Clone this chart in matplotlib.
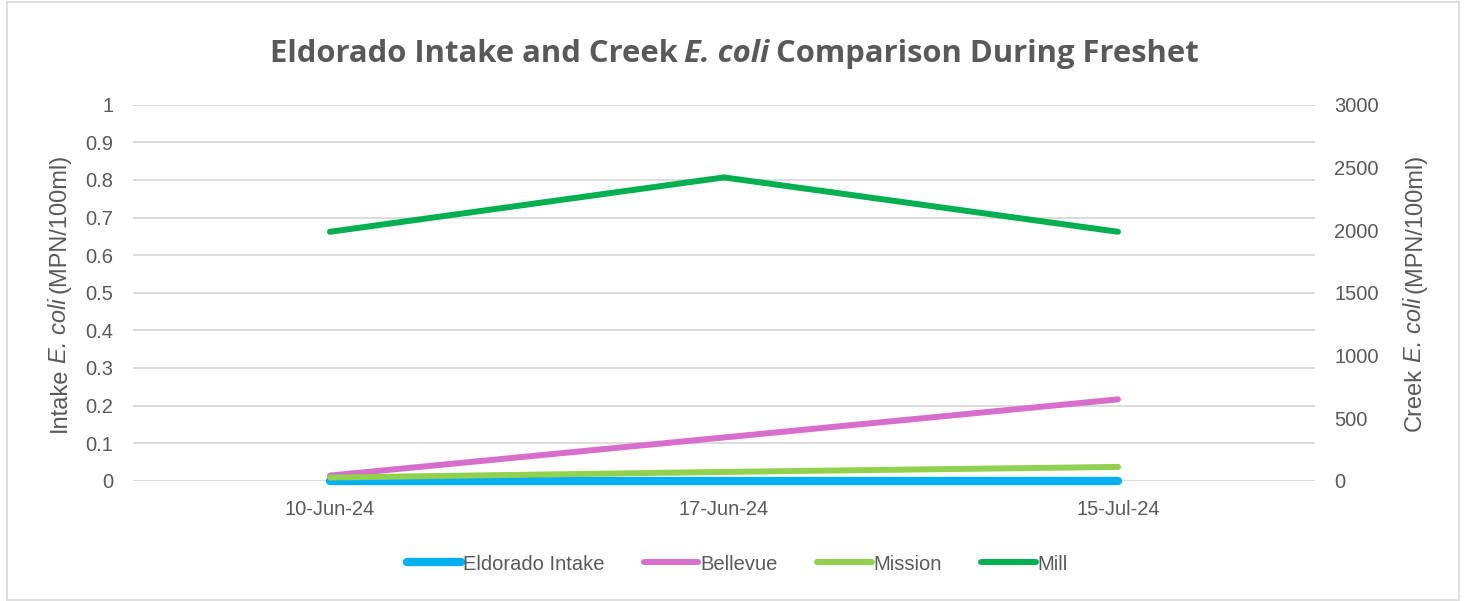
import matplotlib
matplotlib.use("Agg")
from matplotlib import pyplot as plt
from matplotlib.patches import Rectangle
from matplotlib.transforms import IdentityTransform

dates = ["10-Jun-24", "17-Jun-24", "15-Jul-24"]
eldorado_intake = [0, 0, 0]
bellevue = [41, 345, 649]
mission = [25, 70, 110]
mill = [1986, 2420, 1986]

TEXT = "#595959"
GRID = "#d9d9d9"
BODY = "Liberation Sans"
TITLE = "Open Sans"

fig = plt.figure(figsize=(14.66, 6.01), dpi=100)
fig.patches.append(Rectangle((7, 1), 1452, 598, transform=IdentityTransform(),
                             fill=False, edgecolor=GRID, linewidth=1.2))

ax = fig.add_axes([133 / 1466, 1 - 480.7 / 601, (1315 - 133) / 1466, 376 / 601])
ax2 = ax.twinx()
x = list(range(len(dates)))

ax.set_ylim(0, 1)
ax.set_yticks([i / 10 for i in range(11)])
ax.set_yticklabels(["0"] + [f"{i / 10:g}" for i in range(1, 10)] + ["1"])
ax.set_xlim(-0.5, 2.5)
ax.set_xticks(x)
ax.set_xticklabels(dates)
ax.grid(axis="y", color=GRID, linewidth=1.3)
ax.set_axisbelow(True)
ax2.set_ylim(0, 3000)
ax2.set_yticks(range(0, 3001, 500))

for a in (ax, ax2):
    for s in a.spines.values():
        s.set_visible(False)
    a.tick_params(length=0, colors=TEXT, labelsize=14.5)
    for lab in a.get_xticklabels() + a.get_yticklabels():
        lab.set_family(BODY)
ax.tick_params(axis="y", pad=14)
ax.tick_params(axis="x", pad=14)
ax2.tick_params(axis="y", pad=14)

l1, = ax.plot(x, eldorado_intake, color="#00b0f0", lw=6, solid_capstyle="round",
              label="Eldorado Intake", clip_on=False)
l2, = ax2.plot(x, bellevue, color="#d86ecc", lw=4.3, solid_capstyle="round",
               label="Bellevue")
l3, = ax2.plot(x, mission, color="#92d050", lw=4.3, solid_capstyle="round",
               label="Mission")
l4, = ax2.plot(x, mill, color="#00b050", lw=4.3, solid_capstyle="round",
               label="Mill")

fig.legend(handles=[l1, l2, l3, l4], loc="center", bbox_to_anchor=(0.503, 1 - 564 / 601),
           ncol=4, frameon=False, handlelength=2.7, handletextpad=0.1,
           columnspacing=1.95, prop={"family": BODY, "size": 14.5}, labelcolor=TEXT)


def rich_text(px, py, pieces, size, rotation=0, weight="normal", family=BODY):
    # pieces: list of (text, italic); centred on (px, py) in pixels
    r = fig.canvas.get_renderer()
    gap_t = fig.text(0, 0, "a a", fontsize=size, family=family, weight=weight)
    nog_t = fig.text(0, 0, "aa", fontsize=size, family=family, weight=weight)
    gap = 0.8 * (gap_t.get_window_extent(r).width - nog_t.get_window_extent(r).width)
    gap_t.remove()
    nog_t.remove()
    objs, widths = [], []
    for s, it in pieces:
        t = fig.text(0, 0, s, fontsize=size, family=family, weight=weight,
                     style="italic" if it else "normal", color=TEXT,
                     transform=IdentityTransform(), ha="left", va="baseline",
                     rotation=rotation, rotation_mode="anchor")
        t.set_rotation(0)
        widths.append(t.get_window_extent(r).width)
        t.set_rotation(rotation)
        objs.append(t)
    total = sum(widths) + gap * (len(pieces) - 1)
    pos = -total / 2
    for t, w in zip(objs, widths):
        if rotation == 0:
            t.set_position((px + pos, py))
        else:
            t.set_position((px, py + pos))
        pos += w + gap


rich_text(734, 601 - 62, [("Eldorado Intake and Creek", False), ("E. coli", True),
                          ("Comparison During Freshet", False)], 22.3, weight="bold",
          family=TITLE)
rich_text(66, 601 - 293, [("Intake", False), ("E. coli", True), ("(MPN/100ml)", False)], 17,
          rotation=90)
rich_text(1421, 601 - 292, [("Creek", False), ("E. coli", True), ("(MPN/100ml)", False)], 17,
          rotation=90)

fig.savefig("out.png", dpi=100)
